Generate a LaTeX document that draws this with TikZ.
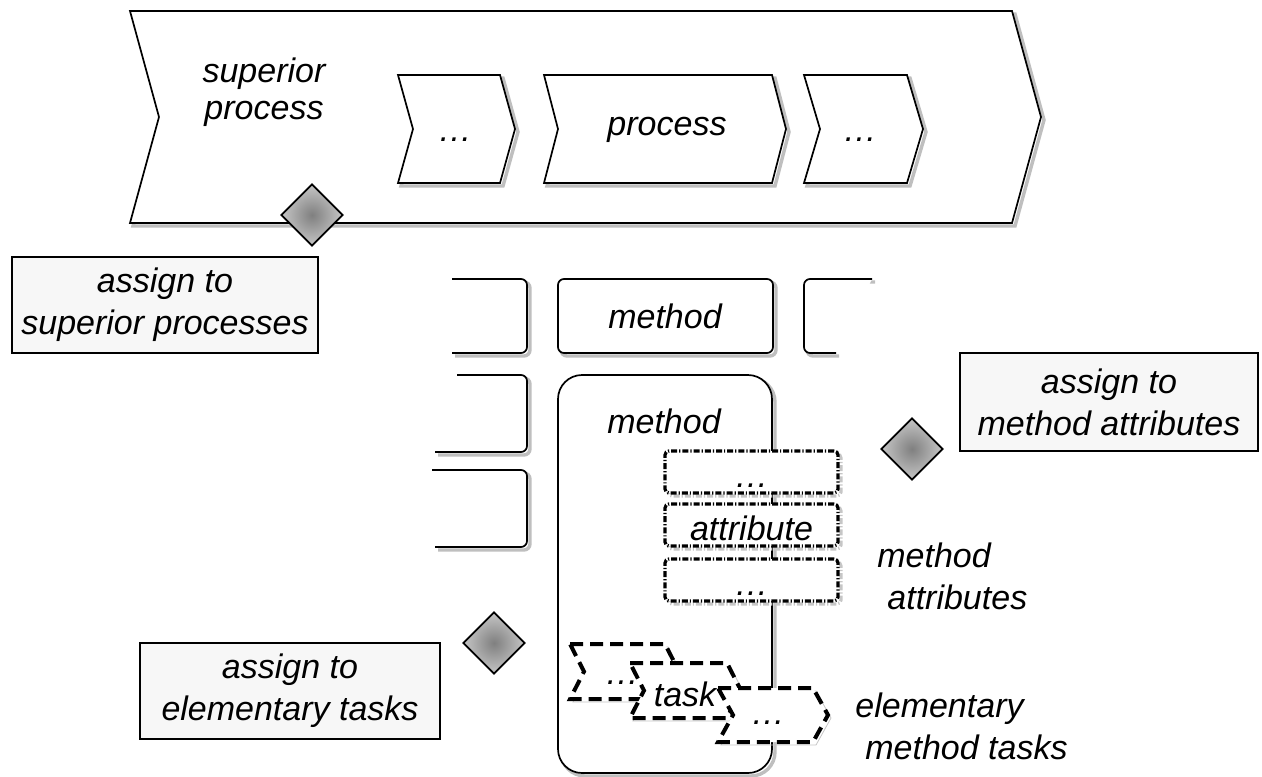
\documentclass[tikz,border=0pt]{standalone}
\usepackage{fontspec}
\setmainfont{Liberation Sans}
\usetikzlibrary{shapes.geometric}

% chevron path: left x, top y, right x, bottom y, tip depth
\newcommand{\chev}[5]{(#1,#2) -- (#3,#2) -- ({#3+#5},{(#2+#4)/2}) -- (#3,#4) -- (#1,#4) -- ({#1+#5},{(#2+#4)/2}) -- cycle}

\tikzset{
  lbl/.style={font=\fontsize{17}{21}\selectfont\itshape, inner sep=0pt},
  shp/.style={draw, fill=white, line width=0.85pt},
  shad/.style={preaction={draw=gray!50, line width=1.7pt, transform canvas={shift={(1.5pt,-1.5pt)}}}},
  dshad/.style={preaction={draw=gray!45, transform canvas={shift={(1.5pt,-1.5pt)}}}},
  taskshape/.style={draw, fill=white, line width=2pt, dash pattern=on 6.5pt off 3.5pt, dshad},
  attrbox/.style={draw, fill=white, line width=1.6pt, rounded corners=2pt,
    dash pattern=on 3pt off 1pt on 0.6pt off 1pt, dshad, lbl,
    minimum width=86.5pt, minimum height=21pt, text height=15pt, text depth=0pt},
  assign/.style={draw, fill=gray!6, line width=0.85pt, align=center, lbl},
  gate/.style={diamond, draw, line width=0.85pt, shading=radial, inner color=gray,
    outer color=gray!45, minimum width=31pt, minimum height=31pt, inner sep=0pt},
}

\begin{document}
\begin{tikzpicture}[x=0.5pt, y=-0.5pt]
  \useasboundingbox (0,0) rectangle (1262,776);

  % process chain
  \draw[shp, shad] \chev{130}{11}{1012}{223}{29};
  \draw[shp, shad] \chev{398}{75}{500}{183}{15};
  \draw[shp, shad] \chev{544}{75}{772}{183}{14};
  \draw[shp, shad] \chev{804}{75}{907}{183}{16};
  \node[lbl, align=center, font=\fontsize{17}{18.5}\selectfont\itshape] (supproc) at (264,92) {superior\\process};
  \node[lbl] (prevdots) at (455,140) {…};
  \node[lbl] (proc) at (667,130) {process};
  \node[lbl] (nextdots) at (860,140) {…};

  \node[gate] (gsup) at (312,215) {};
  \node[assign, minimum width=153pt, minimum height=48pt] (asup) at (165,305) {assign to\\superior processes};

  % methods
  \draw[shp, shad, rounded corners=3pt] (452,279) -- (527,279) -- (527,353) -- (452,353);
  \draw[shp, shad, rounded corners=3pt] (872,279) -- (804,279) -- (804,353) -- (836,353);
  \draw[shp, shad, rounded corners=3pt] (457,375) -- (527,375) -- (527,452) -- (435,452);
  \draw[shp, shad, rounded corners=3pt] (432,470) -- (527,470) -- (527,547) -- (435,547);
  \draw[shp, shad, rounded corners=3pt] (558,279) rectangle (773,353);
  \node[lbl] (mtop) at (665,316) {method};
  \draw[shp, shad, rounded corners=12pt] (558,375) rectangle (772,773);
  \node[lbl] (mbig) at (664,421) {method};

  % attributes
  \node[attrbox] (attr1) at (751.5,472) {…};
  \node[attrbox] (attr2) at (751.5,525) {attribute};
  \node[attrbox] (attr3) at (751.5,580) {…};

  % elementary tasks
  \draw[taskshape] \chev{570}{644}{665}{699}{14};
  \node[lbl] (t1) at (622,683) {…};
  \draw[taskshape] \chev{630}{663}{727}{718}{14};
  \node[lbl] (t2) at (685,694) {task};
  \draw[taskshape] \chev{718}{688}{813}{742}{15};
  \node[lbl] (t3) at (768,723) {…};

  \node[gate] (gattr) at (912,449) {};
  \node[assign, minimum width=149pt, minimum height=49pt] (aattr) at (1109,402) {assign to\\method attributes};
  \node[gate] (gtask) at (494,643) {};
  \node[assign, minimum width=150pt, minimum height=48pt] (atask) at (290,691) {assign to\\elementary tasks};

  \node[lbl, align=left, anchor=west] (mattr) at (877,576) {method\\\hspace*{5pt}attributes};
  \node[lbl, align=left, anchor=west] (etask) at (855,726) {elementary\\\hspace*{5pt}method tasks};
\end{tikzpicture}
\end{document}
